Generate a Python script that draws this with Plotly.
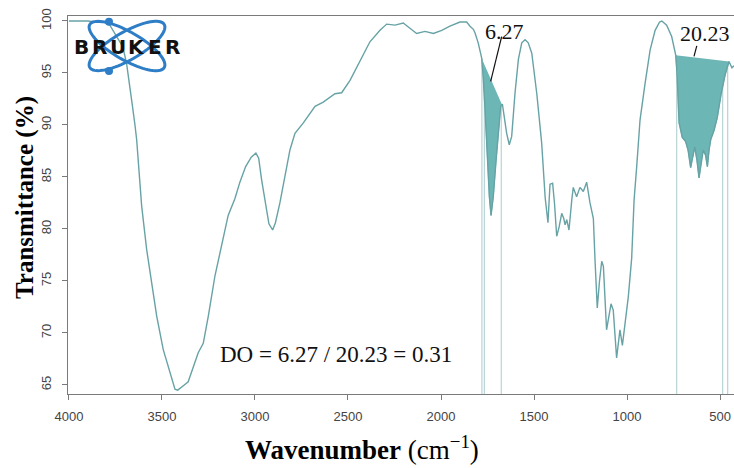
import numpy as np
import plotly.graph_objects as go

# ---------------- data ----------------
wavenumber = [4000, 3950, 3900, 3850, 3800, 3780, 3763, 3740, 3710, 3690, 3672, 3660, 3645,
              3636, 3609, 3582, 3555, 3528, 3493, 3457, 3430, 3415, 3403, 3380, 3359, 3332,
              3305, 3278, 3251, 3215, 3179, 3144, 3108, 3081, 3050, 3020, 2995, 2980, 2964,
              2945, 2925, 2905, 2890, 2866, 2840, 2812, 2785, 2740, 2677, 2633, 2570, 2534,
              2489, 2435, 2382, 2328, 2292, 2247, 2203, 2167, 2131, 2086, 2041, 1996, 1952,
              1898, 1862, 1844, 1826, 1817, 1800, 1781, 1773, 1763, 1751, 1740, 1731, 1719,
              1704, 1692, 1679, 1670, 1660, 1647, 1633, 1620, 1602, 1584, 1566, 1548, 1531,
              1512, 1485, 1459, 1440, 1425, 1414, 1400, 1390, 1378, 1365, 1351, 1340, 1333,
              1324, 1312, 1297, 1289, 1271, 1253, 1235, 1217, 1199, 1181, 1172, 1160, 1148,
              1136, 1127, 1110, 1086, 1074, 1056, 1038, 1025, 1011, 993, 975, 962, 948, 930,
              903, 876, 849, 825, 813, 800, 787, 760, 745, 738, 731, 720, 703, 685, 672, 658,
              636, 624, 613, 600, 590, 578, 568, 559, 550, 532, 515, 495, 473, 452, 436, 425]
transmittance = [100.0, 100.0, 100.0, 99.9, 99.9, 99.6, 99.1, 98.3, 97.5, 95.9, 93.8, 92.0, 90.0,
                 88.6, 82.2, 78.0, 74.8, 71.6, 68.4, 66.1, 64.6, 64.5, 64.7, 65.0, 65.3, 66.8,
                 68.1, 69.0, 71.6, 75.5, 78.4, 81.3, 82.9, 84.5, 86.0, 86.9, 87.3, 86.8, 84.7,
                 82.5, 80.5, 79.9, 80.6, 82.5, 85.0, 87.6, 89.2, 90.2, 91.8, 92.2, 93.0, 93.1,
                 94.3, 96.2, 98.0, 99.1, 99.7, 99.6, 99.8, 99.3, 98.8, 99.0, 98.8, 99.1, 99.5,
                 99.9, 99.9, 99.5, 99.2, 98.85, 97.9, 96.4, 94.6, 91.4, 86.6, 83.1, 81.3, 83.1,
                 86.6, 89.5, 91.8, 92.0, 90.8, 89.2, 88.1, 88.9, 93.1, 96.3, 97.9, 98.2, 97.9,
                 96.9, 93.0, 88.3, 83.0, 80.6, 84.3, 84.4, 82.5, 79.3, 80.2, 81.5, 81.0, 80.4,
                 80.9, 79.9, 82.8, 84.0, 83.1, 84.0, 83.6, 84.5, 82.5, 81.0, 77.0, 72.4, 75.0,
                 76.9, 76.4, 70.3, 72.8, 72.2, 67.6, 70.3, 68.8, 71.0, 73.5, 77.2, 82.8, 86.0, 90.5,
                 94.0, 97.2, 99.1, 99.9, 100.0, 99.8, 99.6, 98.5, 97.3, 96.7, 94.8, 90.2, 88.8, 88.4, 87.6, 85.9,
                 87.9, 86.6, 84.9, 86.6, 87.6, 87.1, 86.0, 87.6, 88.6, 89.5, 90.7, 92.9, 94.8, 96.1, 95.5, 95.7]

# integrated bands (start, end wavenumber) and their areas
band_limits = [(1781, 1672), (738, 452)]
band_areas = [6.27, 20.23]
# integration marker lines
marker_lines = [1780, 1767, 1676, 733, 486, 459]

x_ticks = [4000, 3500, 3000, 2500, 2000, 1500, 1000, 500]
y_ticks = [65, 70, 75, 80, 85, 90, 95, 100]

# ---------------- styling ----------------
LINE_COL = "#67a2a5"
FILL_COL = "#6db6b6"
MARK_COL = "#b7d4d4"
AX_COL = "#7a7a7a"
SERIF = "Liberation Serif, Times New Roman, serif"
SANS = "Liberation Sans, Arial, sans-serif"

X_RANGE = [4005, 425]
Y_RANGE = [64.13, 100.48]

wn = np.array(wavenumber, dtype=float)
tr = np.array(transmittance, dtype=float)
order = np.argsort(wn)
wn_s, tr_s = wn[order], tr[order]


def curve_at(v):
    return float(np.interp(v, wn_s, tr_s))


fig = go.Figure()

# shaded integration bands (curve + straight baseline)
for (a, b) in band_limits:
    hi, lo = max(a, b), min(a, b)
    inside = (wn < hi) & (wn > lo)
    px = [hi] + list(wn[inside]) + [lo]
    py = [curve_at(hi)] + list(tr[inside]) + [curve_at(lo)]
    fig.add_trace(go.Scatter(x=px, y=py, fill="toself", fillcolor=FILL_COL,
                             mode="lines", line=dict(width=0.8, color=FILL_COL),
                             hoverinfo="skip", showlegend=False))

# marker lines from axis to curve
for m in marker_lines:
    fig.add_trace(go.Scatter(x=[m, m], y=[Y_RANGE[0], curve_at(m)], mode="lines",
                             line=dict(width=1.2, color=MARK_COL),
                             hoverinfo="skip", showlegend=False))

# spectrum
fig.add_trace(go.Scatter(x=wavenumber, y=transmittance, mode="lines",
                         line=dict(color=LINE_COL, width=1.4),
                         showlegend=False))

# ---------------- annotations ----------------
label_pos = [(1656, 99.0), (580, 98.75)]
leader = [((1674, 98.5), (1733, 94.2)), ((625, 97.6), (640, 96.6))]
for area, (lx, ly), ((x0, y0), (x1, y1)) in zip(band_areas, label_pos, leader):
    fig.add_annotation(x=lx, y=ly, xref="x", yref="y", text=f"{area:.2f}", showarrow=False,
                       xanchor="center", yanchor="middle",
                       font=dict(family=SERIF, size=22, color="#111"))
    fig.add_shape(type="line", xref="x", yref="y", x0=x0, y0=y0, x1=x1, y1=y1,
                  line=dict(color="#111", width=1.2))

fig.add_annotation(x=2565, y=67.9, xref="x", yref="y", xanchor="center", yanchor="middle",
                   text=f"DO = {band_areas[0]:.2f} / {band_areas[1]:.2f} = {band_areas[0]/band_areas[1]:.2f}",
                   showarrow=False, font=dict(family=SERIF, size=23, color="#111"))

# axis titles
L, R, T, B = 68, 734, 16, 394
W, H = R - L, B - T


def pxx(x):
    return (x - L) / W


def pxy(y):
    return (B - y) / H


fig.add_annotation(x=pxx(362), y=pxy(467), xref="paper", yref="paper", showarrow=False,
                   xanchor="center", yanchor="bottom",
                   text="<b>Wavenumber</b> (cm<sup>−1</sup>)",
                   font=dict(family=SERIF, size=27, color="#000"))
fig.add_annotation(x=pxx(25), y=pxy(198), xref="paper", yref="paper", showarrow=False,
                   xanchor="center", yanchor="middle",
                   text="<b>Transmittance (%)</b>", textangle=-90,
                   font=dict(family=SERIF, size=25, color="#000"))

# ---------------- BRUKER logo (decoration) ----------------
BLUE = "#2d7ec6"
cx, cy, ra, rb = 127, 46, 43, 14
t = np.linspace(0, 2 * np.pi, 80)
for ang in (30, -30):
    th = np.radians(ang)
    ex = cx + ra * np.cos(t) * np.cos(th) - rb * np.sin(t) * np.sin(th)
    ey = cy + ra * np.cos(t) * np.sin(th) + rb * np.sin(t) * np.cos(th)
    path = "M " + " L ".join(f"{pxx(a):.5f},{pxy(b):.5f}" for a, b in zip(ex, ey)) + " Z"
    fig.add_shape(type="path", path=path, xref="paper", yref="paper",
                  line=dict(color=BLUE, width=3), layer="above")
for (dx, dy) in [(109, 21.7), (109, 71)]:
    fig.add_shape(type="circle", xref="paper", yref="paper",
                  x0=pxx(dx - 4), x1=pxx(dx + 4), y0=pxy(dy + 4), y1=pxy(dy - 4),
                  fillcolor=BLUE, line=dict(width=0), layer="above")
for i, ch in enumerate("BRUKER"):
    fig.add_annotation(x=pxx(72 + 110 * (2 * i + 1) / 12), y=pxy(46.7), xref="paper", yref="paper",
                       xanchor="center", yanchor="middle",
                       text=f"<b>{ch}</b>", showarrow=False,
                       font=dict(family="DejaVu Sans, sans-serif", size=20, color="#111"))

axis_common = dict(ticks="outside", ticklen=5, tickcolor=AX_COL, showline=True, linecolor=AX_COL,
                   linewidth=1, showgrid=False, zeroline=False, automargin=False,
                   tickfont=dict(family=SANS, size=13, color="#444"))
fig.update_layout(
    width=734, height=468,
    margin=dict(l=L, r=734 - R, t=T, b=468 - B, autoexpand=False),
    paper_bgcolor="white", plot_bgcolor="white",
    xaxis=dict(range=X_RANGE, tickvals=x_ticks, mirror=True, ticklabelstandoff=5, **axis_common),
    yaxis=dict(range=Y_RANGE, tickvals=y_ticks, tickangle=-90, ticklabelstandoff=6, **axis_common),
)

fig.write_html("out.html", config={"displayModeBar": False},
               post_script="document.body.style.margin='0px';document.body.style.padding='0px';")
